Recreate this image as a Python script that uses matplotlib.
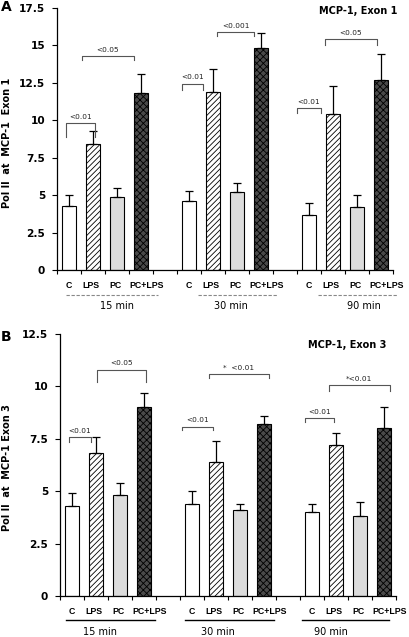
import matplotlib
matplotlib.use("Agg")
import matplotlib.pyplot as plt
from matplotlib.ticker import FuncFormatter

# data
groups = ["15 min", "30 min", "90 min"]
cats = ["C", "LPS", "PC", "PC+LPS"]

# panel A: MCP-1 exon 1 (mean, top of error bar)
a_mean = [[4.3, 8.4, 4.9, 11.8],
          [4.6, 11.9, 5.2, 14.8],
          [3.7, 10.4, 4.2, 12.7]]
a_top = [[5.0, 9.3, 5.5, 13.1],
         [5.3, 13.4, 5.8, 15.8],
         [4.5, 12.3, 5.0, 14.4]]

# panel B: MCP-1 exon 3
b_mean = [[4.3, 6.8, 4.8, 9.0],
          [4.4, 6.4, 4.1, 8.2],
          [4.0, 7.2, 3.8, 8.0]]
b_top = [[4.9, 7.6, 5.4, 9.7],
         [5.0, 7.4, 4.4, 8.6],
         [4.4, 7.8, 4.5, 9.0]]

# significance brackets: (x0, x1, y_top, y_leg, label)
a_sig = [(-0.12, 1.08, 9.8, 8.9, "<0.01"),
         (0.54, 2.71, 14.3, 14.0, "<0.05"),
         (4.71, 5.58, 12.45, 12.0, "<0.01"),
         (6.17, 7.71, 15.9, 15.6, "<0.001"),
         (9.5, 10.5, 10.8, 10.5, "<0.01"),
         (10.67, 12.83, 15.4, 15.05, "<0.05")]
b_sig = [(-0.12, 0.79, 7.57, 7.36, "<0.01"),
         (1.04, 3.08, 10.8, 10.2, "<0.05"),
         (4.58, 5.88, 8.08, 7.9, "<0.01"),
         (5.7, 8.2, 10.6, 10.4, "*  <0.01"),
         (9.7, 10.9, 8.5, 8.3, "<0.01"),
         (10.7, 13.25, 10.06, 9.8, "*<0.01")]

faces = ["white", "white", "#dcdcdc", "#4a4a4a"]
hatches = [None, "//////", None, "xxxxx"]
lab_shift = [0, -0.1, -0.05, 0.25]

plt.rcParams["hatch.linewidth"] = 0.6
fig = plt.figure(figsize=(4.1, 6.37), dpi=100)

fnt = "DejaVu Sans"
arial = "Liberation Sans"


def panel(ax, means, tops, sig, ymax, yticks, dashed, line_rel, text_rel):
    for g in range(3):
        for i in range(4):
            x = g * 5 + i
            ax.bar(x, means[g][i], width=0.58, color=faces[i], edgecolor="black",
                   linewidth=0.8, hatch=hatches[i], zorder=2)
            ax.errorbar(x, means[g][i], yerr=[[0], [tops[g][i] - means[g][i]]],
                        fmt="none", ecolor="black", elinewidth=0.9, capsize=3,
                        capthick=0.9, zorder=3)
    for x0, x1, yt, yl, lab in sig:
        ax.plot([x0, x0, x1, x1], [yl, yt, yt, yl], color="#555555", lw=0.8, zorder=4)
        ax.text((x0 + x1) / 2, yt + ymax * 0.012, lab, ha="center", va="bottom",
                fontsize=5.3, family=fnt, color="#222222")
    ax.set_xlim(-0.5, 13.5)
    ax.set_ylim(0, ymax)
    ax.set_yticks(yticks)
    ax.yaxis.set_major_formatter(FuncFormatter(lambda v, p: "%g" % v))
    ax.set_xticks([x - 0.5 for x in range(15)])
    ax.set_xticklabels([])
    for s in ["top", "right"]:
        ax.spines[s].set_visible(False)
    for s in ["left", "bottom"]:
        ax.spines[s].set_linewidth(0.9)
    ax.tick_params(axis="y", direction="out", length=3.6, width=0.8, pad=5,
                   labelsize=7.6)
    ax.tick_params(axis="x", direction="out", length=3, width=0.8)
    for t in ax.get_yticklabels():
        t.set_fontweight("bold")
        t.set_family(fnt)

    tr = ax.get_xaxis_transform()
    h = 262.0
    for g in range(3):
        for i in range(4):
            ax.text(g * 5 + i + lab_shift[i], -15 / h, cats[i], transform=tr,
                    ha="center", va="center", fontsize=6.3, fontweight="bold",
                    family=arial, clip_on=False)
        x0 = g * 5 + line_rel[g][0]
        x1 = g * 5 + line_rel[g][1]
        if dashed:
            ax.plot([x0, x1], [-25 / h, -25 / h], transform=tr, color="#888888", lw=0.8,
                    ls=(0, (3, 1.5)), clip_on=False)
        else:
            ax.plot([x0, x1], [-24 / h, -24 / h], transform=tr, color="black", lw=1.0,
                    clip_on=False)
        ax.text(g * 5 + text_rel[g], -36 / h, groups[g], transform=tr, ha="center",
                va="center", fontsize=7, family=fnt, clip_on=False)
    return ax


axA = fig.add_axes([57 / 410, 1 - 270 / 637, 336 / 410, 262 / 637])
panel(axA, a_mean, a_top, a_sig, 17.5, [0, 2.5, 5, 7.5, 10, 12.5, 15, 17.5], True,
      [(-0.12, 3.7), (0.37, 3.67), (0.37, 3.67)], [2.0, 1.75, 2.3])

axB = fig.add_axes([60 / 410, 1 - 596 / 637, 336 / 410, 262 / 637])
panel(axB, b_mean, b_top, b_sig, 12.5, [0, 2.5, 5, 7.5, 10, 12.5], False,
      [(-0.25, 3.46), (-0.3, 3.4), (-0.4, 3.2)], [1.17, 1.1, 0.8])

fig.text(397 / 410, 1 - 11 / 637, "MCP-1, Exon 1", fontsize=7, fontweight="bold",
         family=fnt, ha="right", va="center")
fig.text(386 / 410, 1 - 345 / 637, "MCP-1, Exon 3", fontsize=7, fontweight="bold",
         family=fnt, ha="right", va="center")
fig.text(1 / 410, 1 - 7 / 637, "A", fontsize=10, fontweight="bold", family=fnt,
         ha="left", va="center")
fig.text(1 / 410, 1 - 337 / 637, "B", fontsize=10, fontweight="bold", family=fnt,
         ha="left", va="center")
fig.text(7 / 410, 1 - 143 / 637, "Pol II  at  MCP-1  Exon 1", rotation=90, fontsize=7,
         fontweight="bold", family=fnt, ha="center", va="center")
fig.text(7 / 410, 1 - 468 / 637, "Pol II  at  MCP-1 Exon 3", rotation=90, fontsize=7,
         fontweight="bold", family=fnt, ha="center", va="center")

fig.savefig("out.png", dpi=100)
